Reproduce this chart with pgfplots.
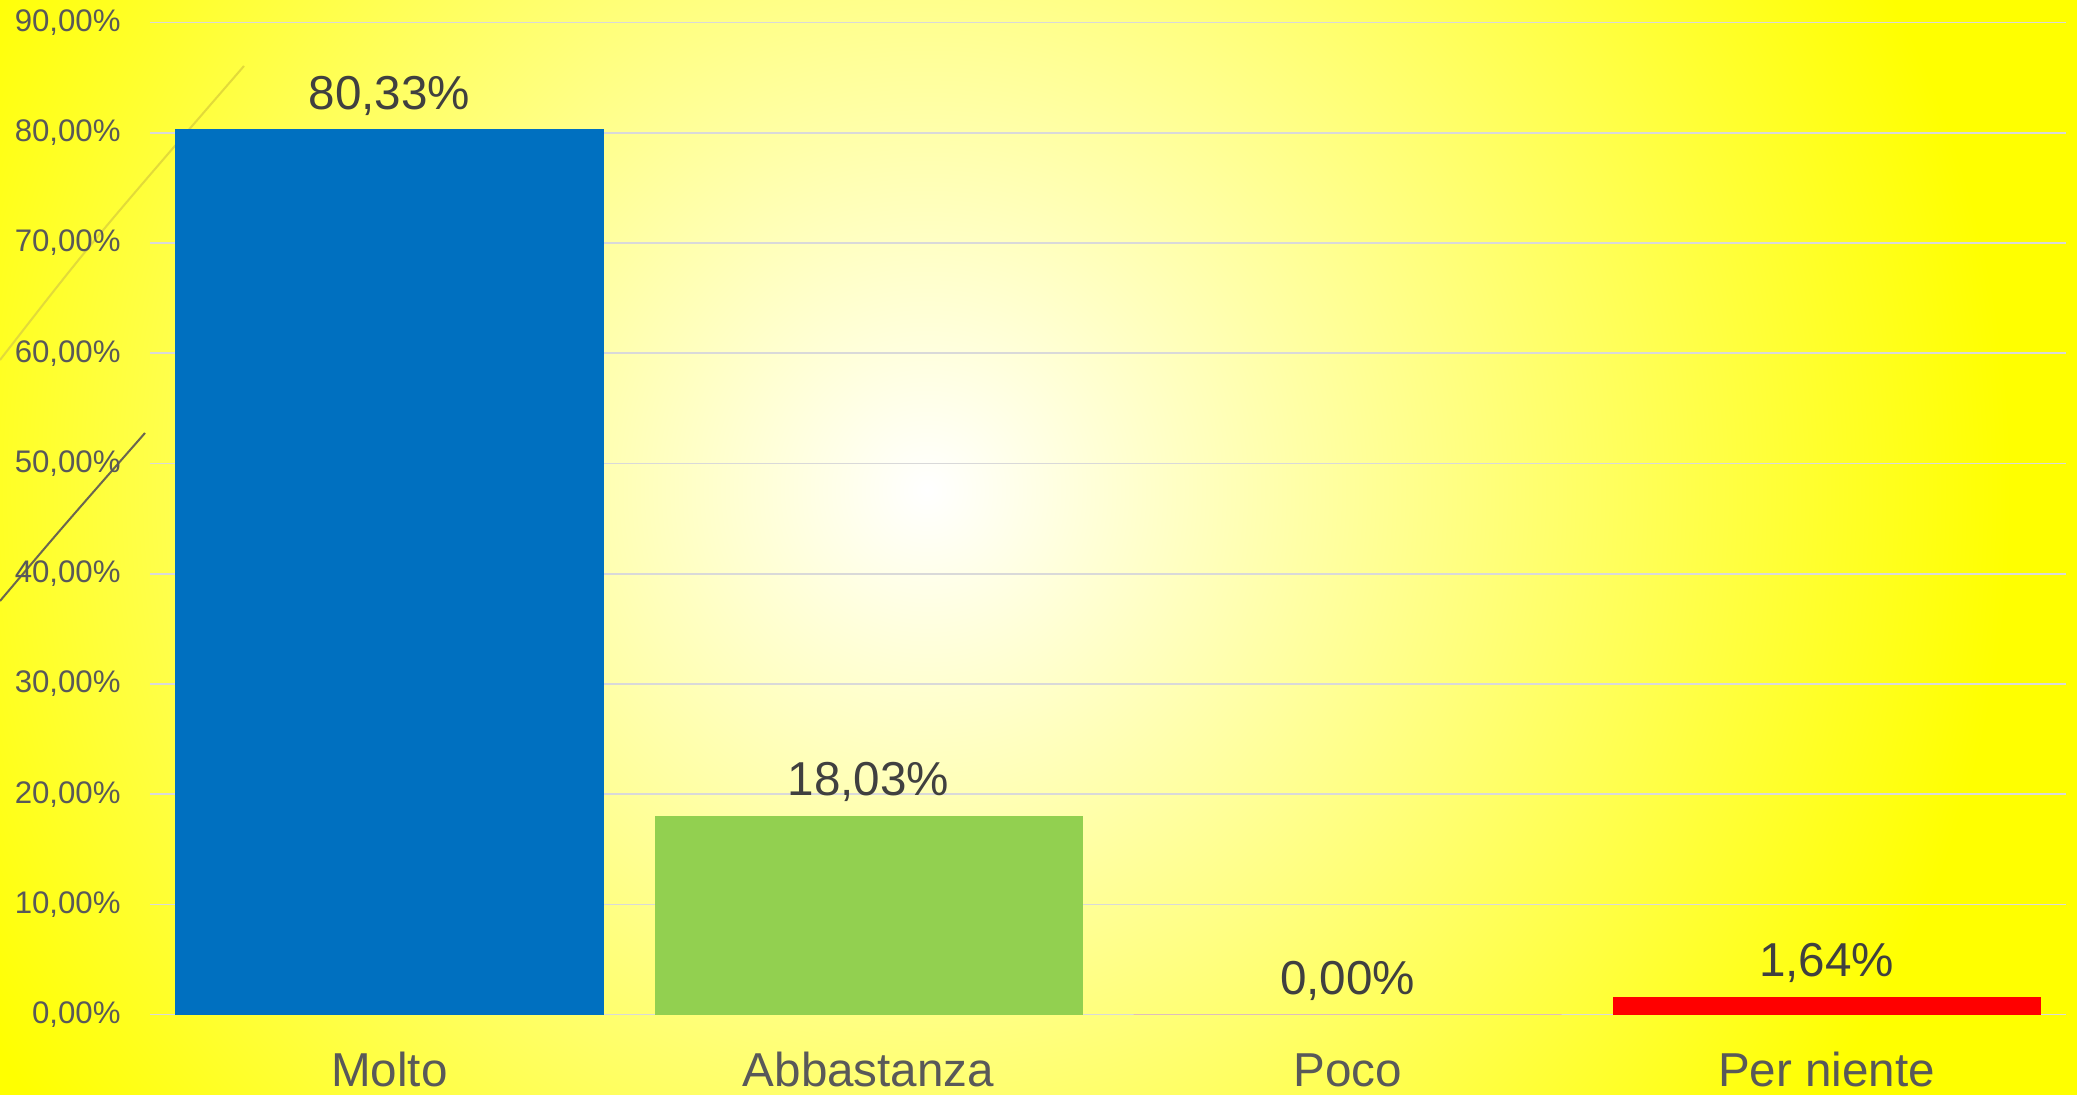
\documentclass[border=0pt]{standalone}
\usepackage{fontspec}
\setmainfont{Liberation Sans}
\usepackage{pgfplots}
\pgfplotsset{compat=1.18}
\definecolor{tickgray}{HTML}{595959}
\definecolor{labgray}{HTML}{404040}
\definecolor{gridgray}{HTML}{D9D9D9}
\definecolor{barblue}{HTML}{0070C0}
\definecolor{bargreen}{HTML}{92D050}
\definecolor{barred}{HTML}{FF0000}
\definecolor{bgyellow}{HTML}{FFFF00}
\definecolor{faintline}{HTML}{E2DA3A}
\definecolor{darkline}{HTML}{6B6650}
\pgfdeclareradialshading{bgshade}{\pgfpoint{0bp}{0bp}}{color(0bp)=(white); color(540bp)=(bgyellow); color(1100bp)=(bgyellow)}
\begin{document}
\begin{tikzpicture}
\useasboundingbox (0,0) rectangle (1038.5pt,547pt);
\begin{scope}
\clip (0,0) rectangle (1038.5pt,547pt);
\fill[bgyellow] (0,0) rectangle (1038.5pt,547pt);
\node[inner sep=0pt, outer sep=0pt] at (463.5pt,302pt) {\pgfuseshading{bgshade}};
\draw[faintline, line width=1pt] (0pt,367pt) .. controls (45pt,425pt) .. (122pt,514pt);
\draw[darkline, line width=1pt] (0pt,246.5pt) .. controls (30pt,282pt) .. (72.5pt,330.5pt);
\end{scope}
\begin{axis}[
  at={(75pt,39.7pt)}, anchor=south west,
  scale only axis, width=958pt, height=496pt,
  xmin=-0.5, xmax=3.5, ymin=0, ymax=90,
  xtick={0,1,2,3}, xticklabels={Molto,Abbastanza,Poco,Per niente},
  ytick={0,10,...,90},
  /pgf/number format/assume math mode=true,
  yticklabel={\pgfmathprintnumber[fixed,fixed zerofill,precision=2,use comma]{\tick}\%},
  axis line style={draw=none},
  ymajorgrids, major grid style={gridgray, line width=0.85pt},
  major tick length=0pt, tick style={draw=none},
  yticklabel style={anchor=east, inner sep=0pt, xshift=-14.5pt, font=\fontsize{15.6}{18}\selectfont, text=tickgray},
  xticklabel style={anchor=base, inner sep=0pt, yshift=-36pt, font=\fontsize{23.8}{28}\selectfont, text=tickgray},
  ybar, bar width=214pt,
  nodes near coords={\pgfmathprintnumber[fixed,fixed zerofill,precision=2,use comma]{\pgfplotspointmeta}\%},
  every node near coord/.append style={anchor=base, inner sep=0pt, yshift=10pt, font=\fontsize{23.8}{28}\selectfont, text=labgray},
  clip=false,
]
\addplot[fill=barblue, draw=none, bar shift=0pt] coordinates {(0,80.33)};
\addplot[fill=bargreen, draw=none, bar shift=0pt] coordinates {(1,18.03)};
\addplot[fill=barred, draw=none, bar shift=0pt] coordinates {(2,0)};
\addplot[fill=barred, draw=none, bar shift=0pt] coordinates {(3,1.64)};
\end{axis}
\end{tikzpicture}
\end{document}
